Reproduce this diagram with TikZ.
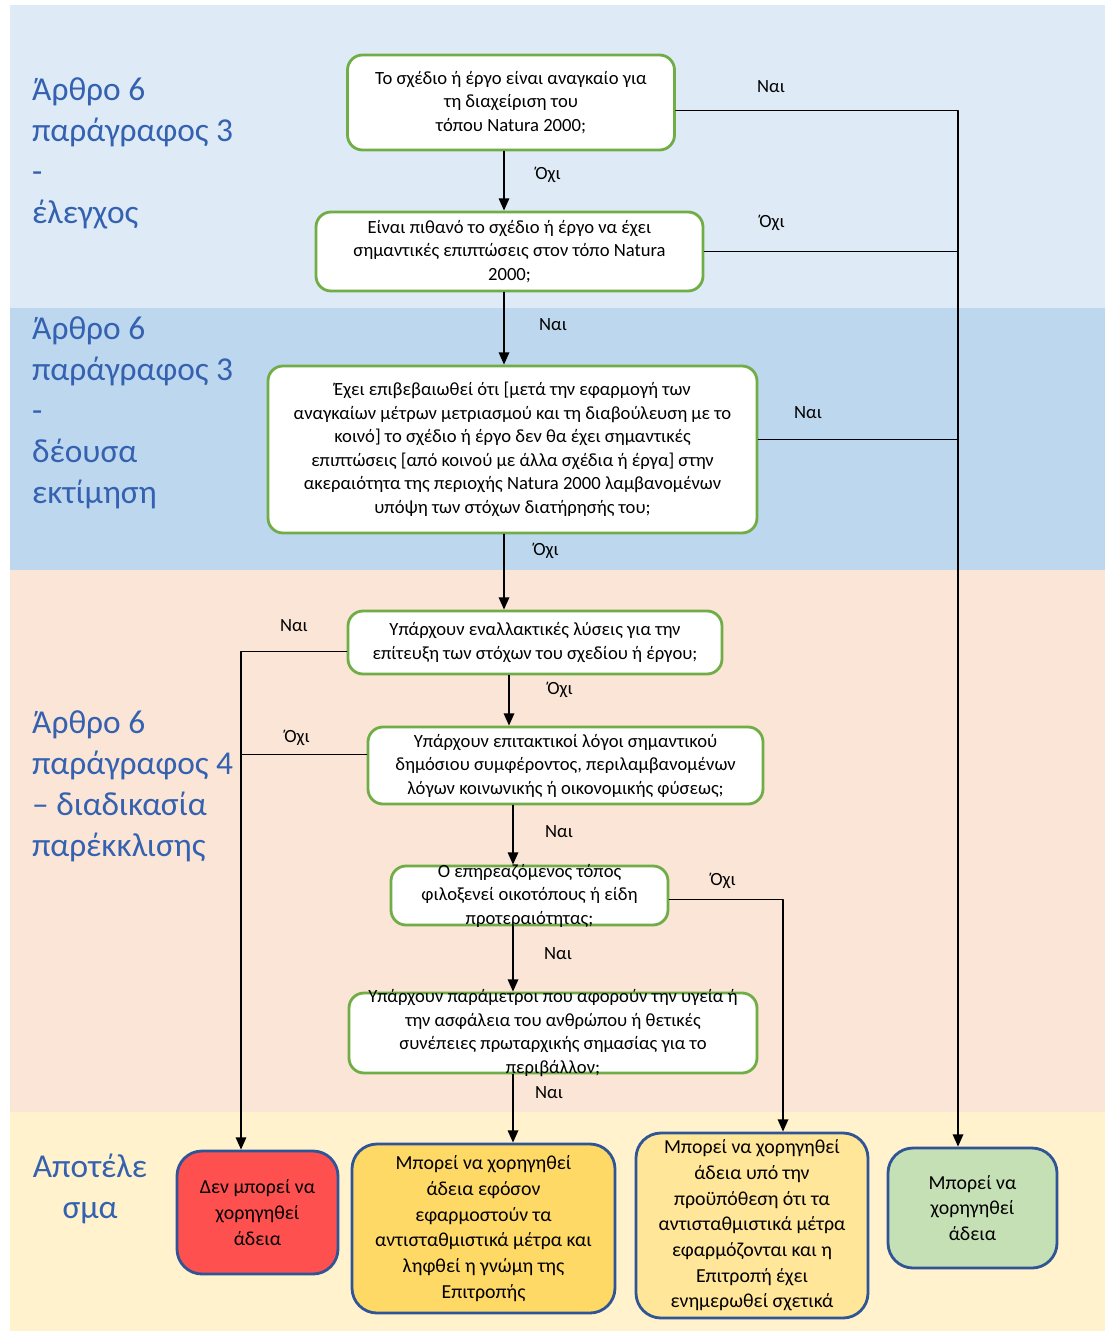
\documentclass[tikz,border=0pt]{standalone}
\usepackage{fontspec}
\setmainfont{Carlito}
\usetikzlibrary{arrows.meta}
\definecolor{bandA}{HTML}{DEEBF7}
\definecolor{bandB}{HTML}{BDD7EE}
\definecolor{bandC}{HTML}{FBE5D6}
\definecolor{bandD}{HTML}{FFF2CC}
\definecolor{qgreen}{HTML}{70AD47}
\definecolor{resblue}{HTML}{2F5597}
\definecolor{sideblue}{HTML}{3461B0}
\definecolor{resred}{HTML}{FF5050}
\definecolor{resorange}{HTML}{FFD966}
\definecolor{resyellow}{HTML}{FFE699}
\definecolor{resgreen}{HTML}{C5E0B4}

\begin{document}
\begin{tikzpicture}[>={Triangle[length=7pt,width=6pt]}, line cap=round, line join=round,
	font=\fontsize{10.6}{13.4}\selectfont,
	qbox/.style={draw=qgreen, line width=1.6pt, fill=white, rounded corners=0.3cm, align=center},
	resbox/.style={draw=resblue, line width=1.6pt, rounded corners=0.5cm, align=center,
		font=\fontsize{11.3}{14.6}\selectfont},
	side/.style={anchor=base west, align=left, text=sideblue, font=\fontsize{19}{23.2}\selectfont},
	ans/.style={inner sep=1pt},
	flow/.style={->, line width=0.9pt}]

\useasboundingbox (0,0) rectangle (22.1,-26.62);

% ================= bands =================
\fill[bandA] (0.2,-0.1) rectangle (22.1,-6.16);
\fill[bandB] (0.2,-6.16) rectangle (22.1,-11.4);
\fill[bandC] (0.2,-11.4) rectangle (22.1,-22.24);
\fill[bandD] (0.2,-22.24) rectangle (22.1,-26.62);

% side labels (anchored at the last line)
\node[side] (s1) at (0.52,-4.46) {Άρθρο 6\\παράγραφος 3\\-\\έλεγχος};
\node[side] (s2) at (0.52,-10.06) {Άρθρο 6\\παράγραφος 3\\-\\δέουσα\\εκτίμηση};
\node[side] (s3) at (0.52,-17.12) {Άρθρο 6\\παράγραφος 4\\– διαδικασία\\παρέκκλισης};
\node[side, anchor=base, align=center] (s4) at (1.8,-24.36) {Αποτέλε\\σμα};

% ================= questions =================
\node[qbox, minimum width=6.54cm, minimum height=1.9cm] (q1) at (10.22,-2.05)
	{Το σχέδιο ή έργο είναι αναγκαίο για\\τη διαχείριση του\\τόπου Natura 2000;};
\node[qbox, minimum width=7.74cm, minimum height=1.58cm] (q2) at (10.19,-5.03)
	{Είναι πιθανό το σχέδιο ή έργο να έχει\\σημαντικές επιπτώσεις στον τόπο Natura\\2000;};
\node[qbox, minimum width=9.78cm, minimum height=3.34cm] (q3) at (10.25,-8.99)
	{Έχει επιβεβαιωθεί ότι [μετά την εφαρμογή των\\αναγκαίων μέτρων μετριασμού και τη διαβούλευση με το\\κοινό] το σχέδιο ή έργο δεν θα έχει σημαντικές\\επιπτώσεις [από κοινού με άλλα σχέδια ή έργα] στην\\ακεραιότητα της περιοχής Natura 2000 λαμβανομένων\\υπόψη των στόχων διατήρησής του;};
\node[qbox, minimum width=7.48cm, minimum height=1.26cm] (q4) at (10.7,-12.85)
	{Υπάρχουν εναλλακτικές λύσεις για την\\επίτευξη των στόχων του σχεδίου ή έργου;};
\node[qbox, minimum width=7.9cm, minimum height=1.54cm] (q5) at (11.31,-15.31)
	{Υπάρχουν επιτακτικοί λόγοι σημαντικού\\δημόσιου συμφέροντος, περιλαμβανομένων\\λόγων κοινωνικής ή οικονομικής φύσεως;};
% these two are too small for their text
\node[qbox, minimum width=5.54cm, minimum height=1.18cm] (q6) at (10.59,-17.91) {};
\node[align=center] (q6t) at (q6) {Ο επηρεαζόμενος τόπος\\φιλοξενεί οικοτόπους ή είδη\\προτεραιότητας;};
\node[qbox, minimum width=8.16cm, minimum height=1.6cm] (q7) at (11.06,-20.66) {};
\node[align=center] (q7t) at (q7) {Υπάρχουν παράμετροι που αφορούν την υγεία ή\\την ασφάλεια του ανθρώπου ή θετικές\\συνέπειες πρωταρχικής σημασίας για το\\περιβάλλον;};

% ================= results =================
\node[resbox, fill=resred, minimum width=3.22cm, minimum height=2.46cm] (r1) at (5.15,-24.25)
	{Δεν μπορεί να\\χορηγηθεί\\άδεια};
\node[resbox, fill=resorange, minimum width=5.26cm, minimum height=3.38cm] (r2) at (9.67,-24.57)
	{Μπορεί να χορηγηθεί\\άδεια εφόσον\\εφαρμοστούν τα\\αντισταθμιστικά μέτρα και\\ληφθεί η γνώμη της\\Επιτροπής};
\node[resbox, fill=resyellow, minimum width=4.64cm, minimum height=3.7cm] (r3) at (15.04,-24.51)
	{Μπορεί να χορηγηθεί\\άδεια υπό την\\προϋπόθεση ότι τα\\αντισταθμιστικά μέτρα\\εφαρμόζονται και η\\Επιτροπή έχει\\ενημερωθεί σχετικά};
\node[resbox, fill=resgreen, minimum width=3.38cm, minimum height=2.4cm] (r4) at (19.45,-24.16)
	{Μπορεί να\\χορηγηθεί\\άδεια};

% ================= connectors =================
\coordinate (rrail) at (19.16,0);
\coordinate (lrail) at (4.82,0);
\coordinate (mrail) at (15.66,0);
\coordinate (sA) at (10.08,0);
\coordinate (sB) at (10.18,0);
\coordinate (sC) at (10.26,0);
\coordinate (q1r) at ([yshift=-0.16cm]q1.east);
\coordinate (q3r) at ([yshift=0.2cm]q3.east);
\coordinate (q4l) at ([yshift=-0.18cm]q4.west);
\coordinate (q5l) at ([yshift=0.22cm]q5.west);
\coordinate (q6r) at ([yshift=-0.08cm]q6.east);

\draw[flow] (q1.south -| sA) -- (q2.north -| sA);
\draw[flow] (q2.south -| sA) -- (q3.north -| sA);
\draw[flow] (q3.south -| sA) -- (q4.north -| sA);
\draw[flow] (q4.south -| sB) -- (q5.north -| sB);
\draw[flow] (q5.south -| sC) -- (q6.north -| sC);
\draw[flow] (q6.south -| sC) -- (q7.north -| sC);
\draw[flow] (q7.south -| sC) -- (r2.north -| sC);

\draw[flow] (q1r) -- (q1r -| rrail) -- (rrail |- r4.north);
\draw[line width=0.9pt] (q2.east) -- (q2.east -| rrail);
\draw[line width=0.9pt] (q3r) -- (q3r -| rrail);
\draw[flow] (q4l) -- (q4l -| lrail) -- (lrail |- r1.north);
\draw[line width=0.9pt] (q5l) -- (q5l -| lrail);
\draw[flow] (q6r) -- (q6r -| mrail) -- (mrail |- r3.north);

% answers
\node[ans] (n1) at (15.42,-1.74) {Ναι};
\node[ans] (n2) at (10.96,-3.5) {Όχι};
\node[ans] (n3) at (15.44,-4.46) {Όχι};
\node[ans] (n4) at (11.06,-6.5) {Ναι};
\node[ans] (n5) at (16.16,-8.26) {Ναι};
\node[ans] (n6) at (10.92,-11.02) {Όχι};
\node[ans] (n7) at (5.88,-12.52) {Ναι};
\node[ans] (n8) at (11.2,-13.8) {Όχι};
\node[ans] (n9) at (5.94,-14.76) {Όχι};
\node[ans] (n10) at (11.18,-16.64) {Ναι};
\node[ans] (n11) at (14.46,-17.62) {Όχι};
\node[ans] (n12) at (11.16,-19.08) {Ναι};
\node[ans] (n13) at (10.98,-21.86) {Ναι};

\end{tikzpicture}
\end{document}
